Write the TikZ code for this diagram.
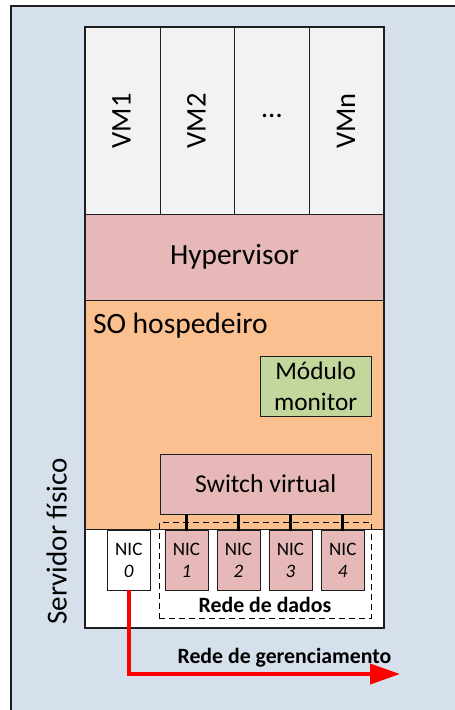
\documentclass[tikz,border=0pt]{standalone}
\usepackage{fontspec}
\setmainfont{Carlito}
\usetikzlibrary{arrows.meta}
\definecolor{bgblue}{RGB}{214,224,236}
\definecolor{vmgray}{RGB}{242,242,242}
\definecolor{hyp}{RGB}{230,185,184}
\definecolor{soorange}{RGB}{250,192,144}
\definecolor{modgreen}{RGB}{195,214,155}
\definecolor{edge}{RGB}{30,30,30}
\newcommand\fsz[1]{\fontsize{#1}{#1}\selectfont}
\begin{document}
\begin{tikzpicture}[x=1pt,y=-1pt,
  box/.style={draw=edge, line width=1pt, rectangle, inner sep=0pt, outer sep=0pt, anchor=north west},
  vmbox/.style={box, fill=vmgray, minimum width=74.7pt, minimum height=186.7pt},
  nicbox/.style={box, fill=hyp, minimum width=43pt, minimum height=59.3pt, align=center, font=\fsz{19}, execute at begin node=\setlength{\baselineskip}{22pt}},
  lbl/.style={inner sep=0pt, outer sep=0pt},
  vmlbl/.style={lbl, rotate=90, font=\fsz{28.5}},
  boldlbl/.style={lbl, anchor=base, font=\fsz{21.8}\bfseries},
  link/.style={line width=3pt, black},
  mgmt/.style={draw=red, line width=4pt, -{Triangle[length=30pt,width=20pt]}},
]
\useasboundingbox (0,0) rectangle (455,710);
\clip (0,0) rectangle (455,710);
% background frame
\fill[bgblue] (11,6) rectangle (470,720);
\draw[edge, line width=1.5pt] (11,720) -- (11,6) -- (470,6);

% VMs
\node[vmbox] (vm1) at (85.3,27.3) {};
\node[vmbox] (vm2) at (160,27.3) {};
\node[vmbox] (vm3) at (234.7,27.3) {};
\node[vmbox] (vm4) at (309.3,27.3) {};
\node[vmlbl] (vm1t) at (121.5,121) {VM1};
\node[vmlbl] (vm2t) at (196.5,121) {VM2};
\node[lbl, anchor=base, font=\fsz{29}] (vm3t) at (272,117.5) {…};
\node[vmlbl] (vm4t) at (346,121) {VMn};

% layers
\node[box, fill=hyp, minimum width=298.7pt, minimum height=86pt, font=\fsz{29.3}] (hyp) at (85.3,214) {Hypervisor};
\node[box, fill=soorange, minimum width=298.7pt, minimum height=229pt] (so) at (85.3,300) {};
\node[lbl, anchor=base west, font=\fsz{29.5}] (sot) at (93,333) {SO hospedeiro};
\node[box, fill=white, minimum width=298.7pt, minimum height=99.3pt] (hw) at (85.3,529) {};
\draw[edge, line width=1.8pt] (85.3,27.3) rectangle (384,628.3);

\node[box, fill=modgreen, minimum width=110.7pt, minimum height=60pt, align=center, font=\fsz{25.3}, execute at begin node=\setlength{\baselineskip}{31pt}] (mod) at (260.3,356) {Módulo\\monitor};
\node[box, fill=hyp, minimum width=210.7pt, minimum height=60pt, font=\fsz{25.7}] (sw) at (160.3,454) {Switch virtual};

% data network
\node[box, draw=black, fill=none, dashed, dash pattern=on 6pt off 4pt, line width=1pt, minimum width=212pt, minimum height=95.6pt] (dados) at (159,522.7) {};
\node[nicbox, fill=white] (nic0) at (107.3,530.7) {NIC\\\textit{0}};
\node[nicbox] (nic1) at (165,530.7) {NIC\\\textit{1}};
\node[nicbox] (nic2) at (217,530.7) {NIC\\\textit{2}};
\node[nicbox] (nic3) at (269,530.7) {NIC\\\textit{3}};
\node[nicbox] (nic4) at (321.3,530.7) {NIC\\\textit{4}};
\node[boldlbl] (dadost) at (265,612.7) {Rede de dados};

\foreach \n in {nic1,nic2,nic3,nic4}
  \draw[link] (\n.north) -- (\n.north |- sw.south);

% management network
\coordinate (gm) at (400,674);
\draw[mgmt] (nic0.south) |- (gm);
\node[boldlbl] (gmt) at (284.5,663.3) {Rede de gerenciamento};

\node[lbl, anchor=base, rotate=90, font=\fsz{29}] (serv) at (66.5,541.5) {Servidor físico};
\end{tikzpicture}
\end{document}
